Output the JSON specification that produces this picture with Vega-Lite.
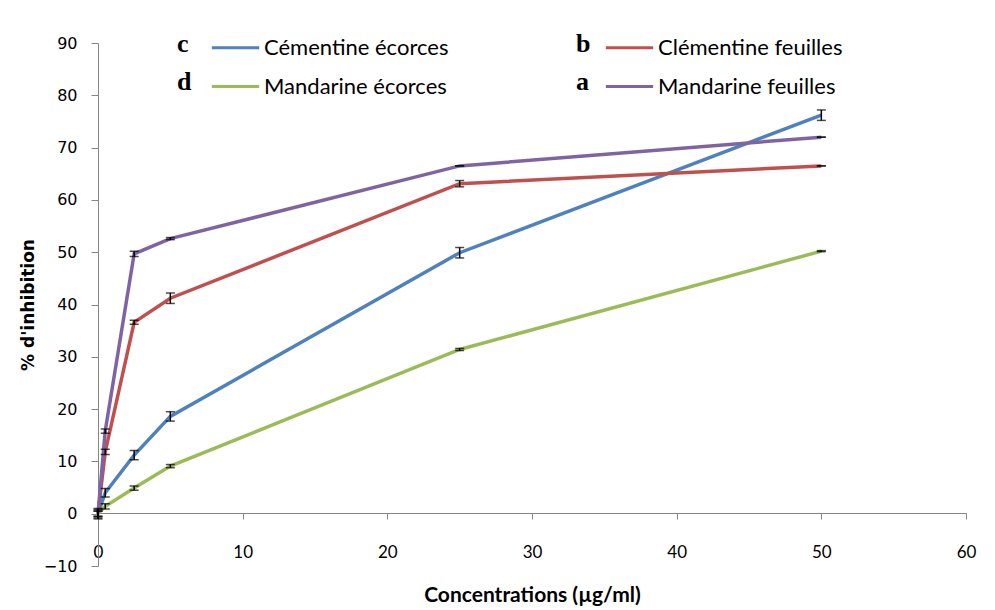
{
  "$schema": "https://vega.github.io/schema/vega-lite/v6.json",
  "width": 868,
  "height": 523,
  "autosize": {"type": "none"},
  "padding": {"left": 98, "top": 43, "right": 29, "bottom": 44},
  "background": "white",
  "config": {"view": {"stroke": null}},
  "data": {"values": [
    {"series": "Cémentine écorces", "letter": "c", "conc": 0, "value": 0, "err": 1.0},
    {"series": "Cémentine écorces", "letter": "c", "conc": 0.5, "value": 4, "err": 0.8},
    {"series": "Cémentine écorces", "letter": "c", "conc": 2.5, "value": 11.2, "err": 0.9},
    {"series": "Cémentine écorces", "letter": "c", "conc": 5, "value": 18.6, "err": 0.9},
    {"series": "Cémentine écorces", "letter": "c", "conc": 25, "value": 49.9, "err": 1.0},
    {"series": "Cémentine écorces", "letter": "c", "conc": 50, "value": 76.2, "err": 1.0},
    {"series": "Clémentine feuilles", "letter": "b", "conc": 0, "value": 0, "err": 0.8},
    {"series": "Clémentine feuilles", "letter": "b", "conc": 0.5, "value": 11.8, "err": 0.5},
    {"series": "Clémentine feuilles", "letter": "b", "conc": 2.5, "value": 36.6, "err": 0.4},
    {"series": "Clémentine feuilles", "letter": "b", "conc": 5, "value": 41.2, "err": 1.0},
    {"series": "Clémentine feuilles", "letter": "b", "conc": 25, "value": 63.1, "err": 0.6},
    {"series": "Clémentine feuilles", "letter": "b", "conc": 50, "value": 66.5, "err": 0},
    {"series": "Mandarine écorces", "letter": "d", "conc": 0, "value": 0, "err": 0.5},
    {"series": "Mandarine écorces", "letter": "d", "conc": 0.5, "value": 1.4, "err": 0.5},
    {"series": "Mandarine écorces", "letter": "d", "conc": 2.5, "value": 4.9, "err": 0.4},
    {"series": "Mandarine écorces", "letter": "d", "conc": 5, "value": 9.1, "err": 0.3},
    {"series": "Mandarine écorces", "letter": "d", "conc": 25, "value": 31.4, "err": 0.2},
    {"series": "Mandarine écorces", "letter": "d", "conc": 50, "value": 50.2, "err": 0.1},
    {"series": "Mandarine feuilles", "letter": "a", "conc": 0, "value": 0, "err": 0.5},
    {"series": "Mandarine feuilles", "letter": "a", "conc": 0.5, "value": 15.8, "err": 0.4},
    {"series": "Mandarine feuilles", "letter": "a", "conc": 2.5, "value": 49.7, "err": 0.5},
    {"series": "Mandarine feuilles", "letter": "a", "conc": 5, "value": 52.6, "err": 0.2},
    {"series": "Mandarine feuilles", "letter": "a", "conc": 25, "value": 66.5, "err": 0},
    {"series": "Mandarine feuilles", "letter": "a", "conc": 50, "value": 72.0, "err": 0}
  ]},
  "transform": [
    {"calculate": "datum.value - datum.err", "as": "lo"},
    {"calculate": "datum.value + datum.err", "as": "hi"}
  ],
  "encoding": {
    "x": {
      "field": "conc", "type": "quantitative",
      "scale": {"domain": [0, 60], "nice": false, "zero": false},
      "axis": {
        "title": "Concentrations (µg/ml)",
        "values": [0, 10, 20, 30, 40, 50, 60],
        "offset": -53,
        "grid": false,
        "domainColor": "#868686", "tickColor": "#868686", "tickSize": 6,
        "labelFont": "Lato", "labelFontSize": 17, "labelColor": "#000000",
        "labelPadding": 25, "labelFlush": false,
        "titleFont": "Lato", "titleFontSize": 21, "titleFontWeight": "bold", "titleColor": "#000000",
        "titlePadding": 24
      }
    },
    "y": {
      "field": "value", "type": "quantitative",
      "scale": {"domain": [-10, 90], "nice": false, "zero": false},
      "axis": {
        "title": "% d'inhibition",
        "values": [-10, 0, 10, 20, 30, 40, 50, 60, 70, 80, 90],
        "grid": false,
        "offset": 0,
        "domainColor": "#868686", "tickColor": "#868686", "tickSize": 7,
        "labelFont": "DejaVu Sans", "labelFontSize": 16, "labelColor": "#000000",
        "labelPadding": 14,
        "titleFont": "DejaVu Sans", "titleFontSize": 17, "titleFontWeight": "bold", "titleColor": "#000000",
        "titlePadding": 6
      }
    }
  },
  "layer": [
    {
      "mark": {"type": "line", "strokeWidth": 3.5, "clip": false},
      "encoding": {
        "color": {
          "field": "series", "type": "nominal",
          "scale": {
            "domain": ["Cémentine écorces", "Clémentine feuilles", "Mandarine écorces", "Mandarine feuilles"],
            "range": ["#4F81BD", "#C0504D", "#9BBB59", "#8064A2"]
          },
          "legend": {
            "orient": "none", "legendX": 124, "legendY": -9,
            "title": null, "columns": 2, "direction": "horizontal",
            "symbolType": "M-2,0H2", "symbolSize": 560, "symbolStrokeWidth": 3,
            "symbolFillColor": "transparent",
            "labelFont": "Lato", "labelFontSize": 22, "labelColor": "#000000",
            "labelOffset": 15, "labelLimit": 400,
            "columnPadding": 150, "rowPadding": 14
          }
        }
      }
    },
    {
      "mark": {"type": "errorbar", "ticks": {"size": 9, "color": "black"}, "rule": {"color": "black"}, "thickness": 1.5},
      "encoding": {
        "y": {"field": "lo", "type": "quantitative"},
        "y2": {"field": "hi"}
      }
    },
    {
      "mark": {"type": "point", "opacity": 0},
      "encoding": {
        "shape": {
          "field": "letter", "type": "nominal",
          "scale": {"domain": ["c", "b", "d", "a"]},
          "legend": {
            "orient": "none", "legendX": 53, "legendY": -12,
            "title": null, "columns": 2, "direction": "horizontal",
            "symbolOpacity": 0, "symbolSize": 0, "symbolStrokeWidth": 0,
            "labelFont": "Liberation Serif", "labelFontSize": 26, "labelFontWeight": "bold", "labelColor": "#000000",
            "labelOffset": 0, "columnPadding": 358, "rowPadding": 12
          }
        }
      }
    }
  ]
}
